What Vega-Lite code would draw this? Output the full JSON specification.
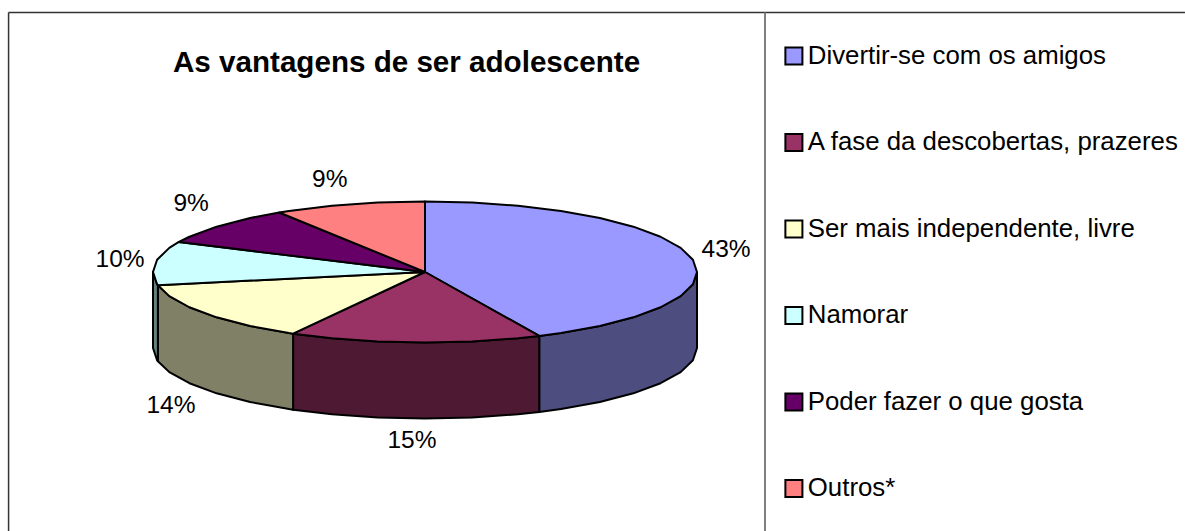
{
"$schema":"https://vega.github.io/schema/vega-lite/v6.json",
"width":1185,"height":531,"padding":0,"autosize":{"type":"none"},
"background":"white",
"view":{"stroke":null},
"title":{"text":"As vantagens de ser adolescente","font":"Liberation Sans","fontSize":29.6,"fontWeight":"bold","color":"#000000","anchor":"start","frame":"group","dx":173,"offset":-102,"baseline":"alphabetic"},
"config":{"axis":{"disable":true}},
"resolve":{"scale":{"fill":"independent"}},
"layer":[
{"data":{"values":[{"x":-1.531,"y":-3.674,"y2":3.681}]},"mark":{"type":"rule","stroke":"#333333","strokeWidth":1.5},"encoding":{"x":{"field":"x","type":"quantitative","scale":{"domain":[-1.5625,2.7941],"nice":false,"zero":false},"axis":null},"y":{"field":"y","type":"quantitative","scale":{"domain":[-3.6738,3.8582],"nice":false,"zero":false},"axis":null},"y2":{"field":"y2"}}},
{"data":{"values":[{"x":-1.531,"x2":2.794,"y":3.681}]},"mark":{"type":"rule","stroke":"#333333","strokeWidth":1.5},"encoding":{"x":{"field":"x","type":"quantitative"},"x2":{"field":"x2"},"y":{"field":"y","type":"quantitative"}}},
{"data":{"values":[{"x":1.25,"y":-3.674,"y2":3.681}]},"mark":{"type":"rule","stroke":"#808080","strokeWidth":2},"encoding":{"x":{"field":"x","type":"quantitative"},"y":{"field":"y","type":"quantitative"},"y2":{"field":"y2"}}},
{"data":{"values":[
{"f":"a","o":1,"x":1,"y":0},{"f":"a","o":2,"x":0.985,"y":-0.174},{"f":"a","o":3,"x":0.94,"y":-0.342},{"f":"a","o":4,"x":0.866,"y":-0.5},{"f":"a","o":5,"x":0.766,"y":-0.643},{"f":"a","o":6,"x":0.643,"y":-0.766},{"f":"a","o":7,"x":0.5,"y":-0.866},{"f":"a","o":8,"x":0.42,"y":-0.907},
{"f":"a","o":9,"x":0.42,"y":-1.985},{"f":"a","o":10,"x":0.5,"y":-1.944},{"f":"a","o":11,"x":0.643,"y":-1.844},{"f":"a","o":12,"x":0.766,"y":-1.721},{"f":"a","o":13,"x":0.866,"y":-1.578},{"f":"a","o":14,"x":0.94,"y":-1.42},{"f":"a","o":15,"x":0.985,"y":-1.252},{"f":"a","o":16,"x":1,"y":-1.078},{"f":"a","o":17,"x":1,"y":0},
{"f":"b","o":1,"x":0.42,"y":-0.907},{"f":"b","o":2,"x":0.342,"y":-0.94},{"f":"b","o":3,"x":0.174,"y":-0.985},{"f":"b","o":4,"x":0,"y":-1},{"f":"b","o":5,"x":-0.174,"y":-0.985},{"f":"b","o":6,"x":-0.342,"y":-0.94},{"f":"b","o":7,"x":-0.485,"y":-0.875},
{"f":"b","o":8,"x":-0.485,"y":-1.953},{"f":"b","o":9,"x":-0.342,"y":-2.018},{"f":"b","o":10,"x":-0.174,"y":-2.063},{"f":"b","o":11,"x":0,"y":-2.078},{"f":"b","o":12,"x":0.174,"y":-2.063},{"f":"b","o":13,"x":0.342,"y":-2.018},{"f":"b","o":14,"x":0.42,"y":-1.985},{"f":"b","o":15,"x":0.42,"y":-0.907},
{"f":"c","o":1,"x":-0.485,"y":-0.875},{"f":"c","o":2,"x":-0.5,"y":-0.866},{"f":"c","o":3,"x":-0.643,"y":-0.766},{"f":"c","o":4,"x":-0.766,"y":-0.643},{"f":"c","o":5,"x":-0.866,"y":-0.5},{"f":"c","o":6,"x":-0.94,"y":-0.342},{"f":"c","o":7,"x":-0.982,"y":-0.187},
{"f":"c","o":8,"x":-0.982,"y":-1.265},{"f":"c","o":9,"x":-0.94,"y":-1.42},{"f":"c","o":10,"x":-0.866,"y":-1.578},{"f":"c","o":11,"x":-0.766,"y":-1.721},{"f":"c","o":12,"x":-0.643,"y":-1.844},{"f":"c","o":13,"x":-0.5,"y":-1.944},{"f":"c","o":14,"x":-0.485,"y":-1.953},{"f":"c","o":15,"x":-0.485,"y":-0.875},
{"f":"d","o":1,"x":-0.982,"y":-0.187},{"f":"d","o":2,"x":-0.985,"y":-0.174},{"f":"d","o":3,"x":-1,"y":0},{"f":"d","o":4,"x":-1,"y":-1.078},{"f":"d","o":5,"x":-0.985,"y":-1.252},{"f":"d","o":6,"x":-0.982,"y":-1.265},{"f":"d","o":7,"x":-0.982,"y":-0.187}
]},
"mark":{"type":"line","stroke":"#000000","strokeWidth":2,"strokeJoin":"round","clip":false},
"encoding":{"x":{"field":"x","type":"quantitative"},"y":{"field":"y","type":"quantitative"},"order":{"field":"o","type":"quantitative"},"detail":{"field":"f"},
"fill":{"field":"f","type":"nominal","scale":{"domain":["a","b","c","d"],"range":["#4D4D80","#4D1933","#808066","#668080"]},"legend":null}}},
{"data":{"values":[
{"fatia":"Divertir-se com os amigos","o":0,"x":0,"y":0},{"fatia":"Divertir-se com os amigos","o":1,"x":0,"y":1},{"fatia":"Divertir-se com os amigos","o":2,"x":0.174,"y":0.985},{"fatia":"Divertir-se com os amigos","o":3,"x":0.342,"y":0.94},{"fatia":"Divertir-se com os amigos","o":4,"x":0.5,"y":0.866},{"fatia":"Divertir-se com os amigos","o":5,"x":0.643,"y":0.766},{"fatia":"Divertir-se com os amigos","o":6,"x":0.766,"y":0.643},{"fatia":"Divertir-se com os amigos","o":7,"x":0.866,"y":0.5},{"fatia":"Divertir-se com os amigos","o":8,"x":0.94,"y":0.342},{"fatia":"Divertir-se com os amigos","o":9,"x":0.985,"y":0.174},{"fatia":"Divertir-se com os amigos","o":10,"x":1,"y":0},{"fatia":"Divertir-se com os amigos","o":11,"x":0.985,"y":-0.174},{"fatia":"Divertir-se com os amigos","o":12,"x":0.94,"y":-0.342},{"fatia":"Divertir-se com os amigos","o":13,"x":0.866,"y":-0.5},{"fatia":"Divertir-se com os amigos","o":14,"x":0.766,"y":-0.643},{"fatia":"Divertir-se com os amigos","o":15,"x":0.643,"y":-0.766},{"fatia":"Divertir-se com os amigos","o":16,"x":0.5,"y":-0.866},{"fatia":"Divertir-se com os amigos","o":17,"x":0.42,"y":-0.907},{"fatia":"Divertir-se com os amigos","o":18,"x":0,"y":0},
{"fatia":"A fase da descobertas, prazeres","o":0,"x":0,"y":0},{"fatia":"A fase da descobertas, prazeres","o":1,"x":0.42,"y":-0.907},{"fatia":"A fase da descobertas, prazeres","o":2,"x":0.342,"y":-0.94},{"fatia":"A fase da descobertas, prazeres","o":3,"x":0.174,"y":-0.985},{"fatia":"A fase da descobertas, prazeres","o":4,"x":0,"y":-1},{"fatia":"A fase da descobertas, prazeres","o":5,"x":-0.174,"y":-0.985},{"fatia":"A fase da descobertas, prazeres","o":6,"x":-0.342,"y":-0.94},{"fatia":"A fase da descobertas, prazeres","o":7,"x":-0.485,"y":-0.875},{"fatia":"A fase da descobertas, prazeres","o":8,"x":0,"y":0},
{"fatia":"Ser mais independente, livre","o":0,"x":0,"y":0},{"fatia":"Ser mais independente, livre","o":1,"x":-0.485,"y":-0.875},{"fatia":"Ser mais independente, livre","o":2,"x":-0.5,"y":-0.866},{"fatia":"Ser mais independente, livre","o":3,"x":-0.643,"y":-0.766},{"fatia":"Ser mais independente, livre","o":4,"x":-0.766,"y":-0.643},{"fatia":"Ser mais independente, livre","o":5,"x":-0.866,"y":-0.5},{"fatia":"Ser mais independente, livre","o":6,"x":-0.94,"y":-0.342},{"fatia":"Ser mais independente, livre","o":7,"x":-0.982,"y":-0.187},{"fatia":"Ser mais independente, livre","o":8,"x":0,"y":0},
{"fatia":"Namorar","o":0,"x":0,"y":0},{"fatia":"Namorar","o":1,"x":-0.982,"y":-0.187},{"fatia":"Namorar","o":2,"x":-0.985,"y":-0.174},{"fatia":"Namorar","o":3,"x":-1,"y":0},{"fatia":"Namorar","o":4,"x":-0.985,"y":0.174},{"fatia":"Namorar","o":5,"x":-0.94,"y":0.342},{"fatia":"Namorar","o":6,"x":-0.905,"y":0.426},{"fatia":"Namorar","o":7,"x":0,"y":0},
{"fatia":"Poder fazer o que gosta","o":0,"x":0,"y":0},{"fatia":"Poder fazer o que gosta","o":1,"x":-0.905,"y":0.426},{"fatia":"Poder fazer o que gosta","o":2,"x":-0.866,"y":0.5},{"fatia":"Poder fazer o que gosta","o":3,"x":-0.766,"y":0.643},{"fatia":"Poder fazer o que gosta","o":4,"x":-0.643,"y":0.766},{"fatia":"Poder fazer o que gosta","o":5,"x":-0.536,"y":0.844},{"fatia":"Poder fazer o que gosta","o":6,"x":0,"y":0},
{"fatia":"Outros*","o":0,"x":0,"y":0},{"fatia":"Outros*","o":1,"x":-0.536,"y":0.844},{"fatia":"Outros*","o":2,"x":-0.5,"y":0.866},{"fatia":"Outros*","o":3,"x":-0.342,"y":0.94},{"fatia":"Outros*","o":4,"x":-0.174,"y":0.985},{"fatia":"Outros*","o":5,"x":0,"y":1},{"fatia":"Outros*","o":6,"x":0,"y":0}
]},
"mark":{"type":"line","stroke":"#000000","strokeWidth":2,"strokeJoin":"round"},
"encoding":{"x":{"field":"x","type":"quantitative"},"y":{"field":"y","type":"quantitative"},"order":{"field":"o","type":"quantitative"},"detail":{"field":"fatia"},
"fill":{"field":"fatia","type":"nominal","scale":{"domain":["Divertir-se com os amigos","A fase da descobertas, prazeres","Ser mais independente, livre","Namorar","Poder fazer o que gosta","Outros*"],"range":["#9999FF","#993366","#FFFFCC","#CCFFFF","#660066","#FF8080"]},
"legend":{"title":null,"orient":"none","legendX":781,"legendY":43,"symbolType":"square","symbolSize":290,"symbolStrokeColor":"#000000","symbolStrokeWidth":2,"symbolOpacity":1,"labelFont":"Liberation Sans","labelFontSize":25.8,"labelColor":"#000000","labelOffset":1,"labelLimit":400,"rowPadding":59.5,"padding":0}}}},
{"data":{"values":[
{"rotulo":"43%","x":1.107,"y":0.312},{"rotulo":"15%","x":-0.048,"y":-2.397},{"rotulo":"14%","x":-0.934,"y":-1.9},{"rotulo":"10%","x":-1.121,"y":0.17},{"rotulo":"9%","x":-0.86,"y":0.965},{"rotulo":"9%","x":-0.35,"y":1.305}
]},
"mark":{"type":"text","font":"Liberation Sans","fontSize":24.5,"color":"#000000","baseline":"middle","align":"center"},
"encoding":{"x":{"field":"x","type":"quantitative"},"y":{"field":"y","type":"quantitative"},"text":{"field":"rotulo"}}}
]
}
